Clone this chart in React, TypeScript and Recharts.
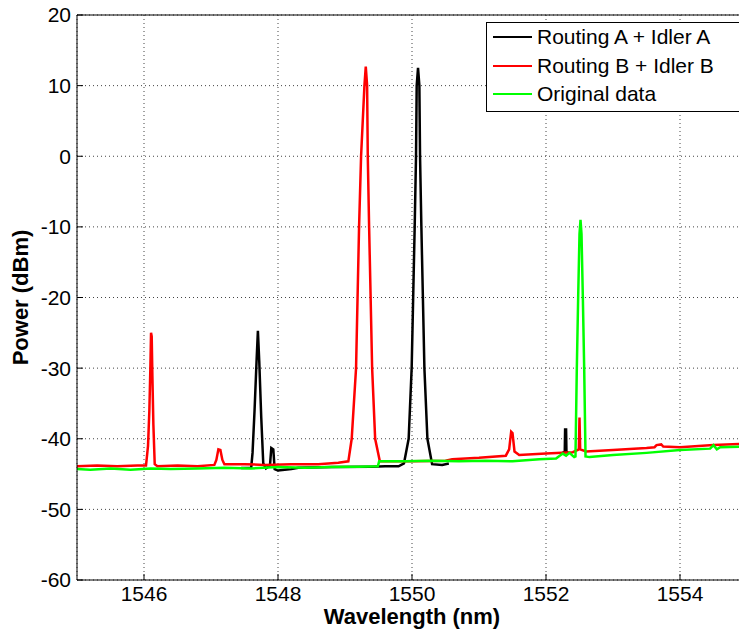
import { CartesianGrid, Line, LineChart, ReferenceLine, XAxis, YAxis } from "recharts";

// wavelength (nm) / power (dBm) pairs
const blackWl = [
  1547.45, 1547.6, 1547.62, 1547.65, 1547.68, 1547.7, 1547.72, 1547.75, 1547.78, 1547.82,
  1547.88, 1547.9, 1547.93, 1547.95, 1548.0, 1548.1, 1548.2, 1548.3, 1548.8, 1549.4,
  1549.6, 1549.8, 1549.88, 1549.95, 1549.995, 1550.04, 1550.06, 1550.07, 1550.09, 1550.11,
  1550.12, 1550.14, 1550.185, 1550.23, 1550.3, 1550.45, 1550.55, 1550.6,
  1552.25, 1552.28, 1552.285, 1552.3, 1552.305, 1552.33,
];
const blackPw = [
  -44.15, -44.1, -42, -36, -29, -24.7, -29, -37, -43.5, -44.2,
  -43.8, -41.3, -41.5, -44.3, -44.5, -44.4, -44.3, -44.1, -44.0, -43.95,
  -43.9, -43.9, -43.5, -40, -30, -10, 0, 10, 12.5, 10,
  0, -10, -30, -40, -43.6, -43.7, -43.5, null,
  -42.0, -41.8, -38.7, -38.7, -41.8, -42.0,
];

const redWl = [
  1545.0, 1545.3, 1545.6, 1545.9, 1546.03, 1546.06, 1546.08, 1546.095, 1546.105, 1546.115,
  1546.125, 1546.14, 1546.16, 1546.2, 1546.5, 1546.8, 1547.05, 1547.08, 1547.11, 1547.14,
  1547.17, 1547.2, 1547.5, 1547.8, 1548.2, 1548.6, 1548.9, 1549.05, 1549.1, 1549.165,
  1549.21, 1549.24, 1549.29, 1549.31, 1549.33, 1549.34, 1549.36, 1549.405, 1549.45, 1549.52,
  1550.0, 1550.5, 1550.6, 1551.0, 1551.4, 1551.45, 1551.48, 1551.5, 1551.53, 1551.6,
  1552.0, 1552.4, 1552.49, 1552.5, 1552.51, 1552.6, 1553.0, 1553.5, 1553.62,
  1553.65, 1553.72, 1553.75, 1554.0, 1554.5, 1555.0,
];
const redPw = [
  -43.9, -43.8, -43.9, -43.8, -43.8, -41, -36, -30, -25, -25.5,
  -31, -38, -43.6, -43.9, -43.8, -43.9, -43.7, -43, -41.5, -41.6,
  -43, -43.6, -43.6, -43.7, -43.6, -43.6, -43.4, -43.2, -40, -30,
  -10, 0, 10, 12.7, 10, 0, -10, -30, -40, -43.2,
  -43.2, -43.1, -42.9, -42.7, -42.4, -41.5, -39, -39.2, -41.8, -42.3,
  -42.1, -41.9, -41.5, -37, -41.5, -41.8, -41.6, -41.3, -41.2,
  -40.9, -40.8, -41.1, -41.2, -40.9, -40.7,
];

const greenWl = [
  1545.0, 1545.2, 1545.5, 1545.8, 1546.1, 1546.4, 1546.8, 1547.2, 1547.6, 1548.0,
  1548.4, 1548.8, 1549.2, 1549.49, 1549.51, 1549.9, 1550.3, 1550.7, 1551.1, 1551.5,
  1551.9, 1552.15, 1552.25, 1552.3, 1552.35, 1552.42, 1552.44, 1552.46, 1552.48, 1552.5,
  1552.515, 1552.53, 1552.55, 1552.57, 1552.59, 1552.65, 1553.0, 1553.5, 1554.0, 1554.45,
  1554.5, 1554.55, 1554.6, 1555.0,
];
const greenPw = [
  -44.3, -44.4, -44.2, -44.4, -44.2, -44.3, -44.2, -44.1, -44.2, -44.0,
  -44.1, -44.0, -43.95, -43.9, -43.2, -43.2, -43.1, -43.2, -43.1, -43.2,
  -42.9, -42.8, -42.1, -42.4, -42.0, -42.6, -42.5, -30, -20, -11,
  -9, -11, -20, -30, -42.5, -42.6, -42.3, -42.0, -41.6, -41.4,
  -40.9, -41.5, -41.2, -41.1,
];

const xTicks = [1546, 1548, 1550, 1552, 1554];
const yTicks = [-60, -50, -40, -30, -20, -10, 0, 10, 20];

const zip = (wl: number[], pw: (number | null)[]) => wl.map((w, i) => ({ wl: w, p: pw[i] }));

const series = [
  { name: "Routing A + Idler A", color: "#000000", data: zip(blackWl, blackPw) },
  { name: "Routing B + Idler B", color: "#ff0000", data: zip(redWl, redPw) },
  { name: "Original data", color: "#00ff00", data: zip(greenWl, greenPw) },
];

const font = "'Liberation Sans', Arial, sans-serif";

function LegendBox() {
  return (
    <div
      style={{
        position: "absolute",
        left: 486,
        top: 22,
        border: "1px solid #000",
        background: "#fff",
        width: 280,
        height: 90,
        padding: "0 0 0 6px",
        fontFamily: font,
        fontSize: 21,
        color: "#000",
        boxSizing: "border-box",
      }}
    >
      {series.map((s) => (
        <div key={s.name} style={{ display: "flex", alignItems: "center", height: 28.5, whiteSpace: "nowrap" }}>
          <span style={{ display: "inline-block", width: 39, height: 2, background: s.color, marginRight: 5 }} />
          <span>{s.name}</span>
        </div>
      ))}
    </div>
  );
}

export default function App() {
  return (
    <div style={{ position: "absolute", left: 0, top: 0, width: 739, height: 637, overflow: "hidden", background: "#fff" }}>
      <LineChart width={748} height={637} margin={{ top: 15, right: 1, bottom: 0, left: 0 }}>
        <CartesianGrid stroke="#444" strokeDasharray="1 3" />
        <XAxis
          dataKey="wl"
          type="number"
          domain={[1545, 1555]}
          ticks={xTicks}
          allowDataOverflow
          height={57}
          stroke="#000"
          tickSize={-6}
          tickMargin={12}
          tick={{ fill: "#000", fontSize: 21, fontFamily: font }}
          label={{ value: "Wavelength (nm)", position: "insideBottom", offset: 13, fill: "#000", fontSize: 22, fontWeight: "bold", fontFamily: font }}
        />
        <YAxis
          type="number"
          domain={[-60, 20]}
          ticks={yTicks}
          allowDataOverflow
          width={77}
          stroke="#000"
          tickSize={-6}
          tickMargin={12}
          tick={{ fill: "#000", fontSize: 21, fontFamily: font }}
          label={{ value: "Power (dBm)", angle: -90, position: "center", dx: -18, fill: "#000", fontSize: 22, fontWeight: "bold", fontFamily: font }}
        />
        <ReferenceLine y={20} stroke="#000" />
        {series.map((s) => (
          <Line
            key={s.name}
            data={s.data}
            dataKey="p"
            name={s.name}
            type="linear"
            stroke={s.color}
            strokeWidth={2.5}
            dot={false}
            isAnimationActive={false}
          />
        ))}
      </LineChart>
      <LegendBox />
    </div>
  );
}
